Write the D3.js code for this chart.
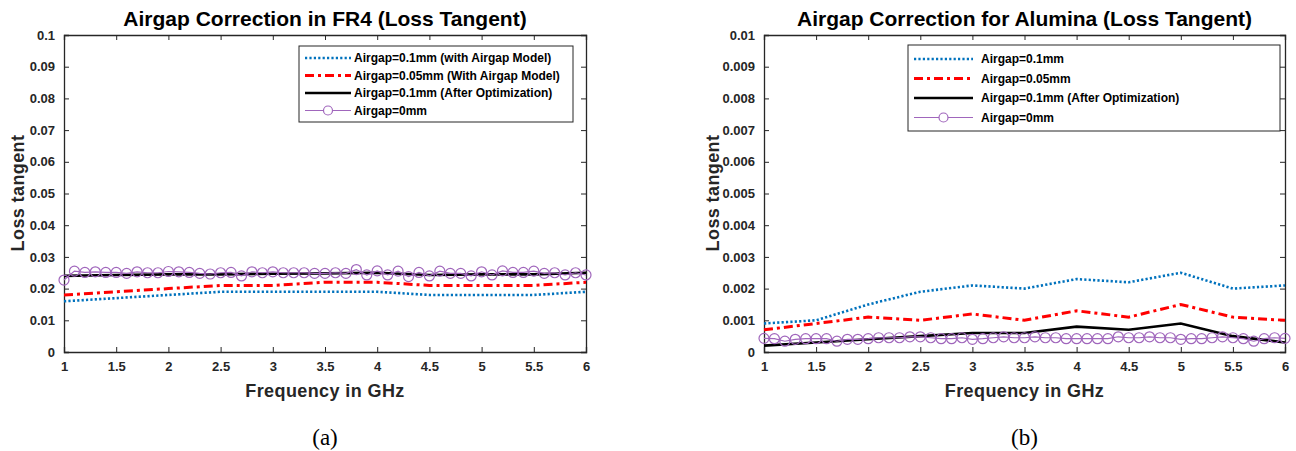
<!DOCTYPE html>
<html>
<head>
<meta charset="utf-8">
<script src="https://cdn.jsdelivr.net/npm/d3@7"></script>
<style>
  body { margin: 0; background: #fff; }
  svg { display: block; font-family: "Liberation Sans", Arial, sans-serif; }
  .tick text { font-weight: bold; font-size: 13px; fill: #262626; }
  .title { font-weight: bold; font-size: 21px; fill: #000; }
  .axlabel { font-weight: bold; font-size: 18px; fill: #262626; letter-spacing: 0.4px; }
  .leg text { font-weight: bold; font-size: 12px; fill: #000; }
  .caption { font-family: "Liberation Serif", "Times New Roman", serif; font-size: 23px; }
</style>
</head>
<body>
<script>
// coarse frequency grid (GHz)
var freq = [1, 1.5, 2, 2.5, 3, 3.5, 4, 4.5, 5, 5.5, 6];
// fine grid for the airgap=0 measurement
var freqFine = [1, 1.1, 1.2, 1.3, 1.4, 1.5, 1.6, 1.7, 1.8, 1.9, 2, 2.1, 2.2, 2.3, 2.4, 2.5, 2.6, 2.7, 2.8, 2.9,
  3, 3.1, 3.2, 3.3, 3.4, 3.5, 3.6, 3.7, 3.8, 3.9, 4, 4.1, 4.2, 4.3, 4.4, 4.5, 4.6, 4.7, 4.8, 4.9,
  5, 5.1, 5.2, 5.3, 5.4, 5.5, 5.6, 5.7, 5.8, 5.9, 6];

// (a) FR4
var fr4Gap01 = [0.016, 0.017, 0.018, 0.019, 0.019, 0.019, 0.019, 0.018, 0.018, 0.018, 0.019];
var fr4Gap005 = [0.018, 0.019, 0.020, 0.021, 0.021, 0.022, 0.022, 0.021, 0.021, 0.021, 0.022];
var fr4Opt = [0.024, 0.0243, 0.0245, 0.0245, 0.0247, 0.0248, 0.025, 0.0243, 0.0245, 0.0245, 0.025];
var fr4Gap0 = [0.0227, 0.0255, 0.0251, 0.0253, 0.0251, 0.0251, 0.0248, 0.0253, 0.025, 0.025,
  0.0254, 0.0253, 0.0251, 0.0248, 0.0246, 0.025, 0.0251, 0.024, 0.0253, 0.025,
  0.0253, 0.025, 0.025, 0.025, 0.0248, 0.0248, 0.025, 0.0248, 0.026, 0.0243,
  0.0256, 0.0243, 0.0255, 0.0238, 0.0251, 0.024, 0.0255, 0.0248, 0.0248, 0.024,
  0.0253, 0.0243, 0.0256, 0.0251, 0.0251, 0.0255, 0.0248, 0.025, 0.0243, 0.025, 0.0243];

// (b) Alumina
var alGap01 = [0.0009, 0.001, 0.0015, 0.0019, 0.0021, 0.002, 0.0023, 0.0022, 0.0025, 0.002, 0.0021];
var alGap005 = [0.0007, 0.0009, 0.0011, 0.001, 0.0012, 0.001, 0.0013, 0.0011, 0.0015, 0.0011, 0.001];
var alOpt = [0.0002, 0.0003, 0.0004, 0.0005, 0.0006, 0.0006, 0.0008, 0.0007, 0.0009, 0.0005, 0.0003];
var alGap0 = [0.00043, 0.00042, 0.00034, 0.0004, 0.00042, 0.00042, 0.00042, 0.00034, 0.0004, 0.0004,
  0.00042, 0.00045, 0.00045, 0.00045, 0.00048, 0.00048, 0.00045, 0.00042, 0.00042, 0.00045,
  0.0004, 0.00042, 0.00045, 0.00048, 0.00045, 0.00045, 0.00048, 0.00045, 0.00045, 0.00042,
  0.00042, 0.00042, 0.00042, 0.00042, 0.00048, 0.00045, 0.00045, 0.00048, 0.00045, 0.00045,
  0.0004, 0.00042, 0.00042, 0.00045, 0.00048, 0.00045, 0.00042, 0.00034, 0.00042, 0.00045, 0.00043];

var xTicks = [1, 1.5, 2, 2.5, 3, 3.5, 4, 4.5, 5, 5.5, 6];
var yTicksA = [0, 0.01, 0.02, 0.03, 0.04, 0.05, 0.06, 0.07, 0.08, 0.09, 0.1];
var yTicksB = [0, 0.001, 0.002, 0.003, 0.004, 0.005, 0.006, 0.007, 0.008, 0.009, 0.01];

var legendA = ["Airgap=0.1mm (with Airgap Model)", "Airgap=0.05mm (With Airgap Model)",
  "Airgap=0.1mm (After Optimization)", "Airgap=0mm"];
var legendB = ["Airgap=0.1mm", "Airgap=0.05mm", "Airgap=0.1mm (After Optimization)", "Airgap=0mm"];

var styles = [
  {color: "#0072BD", width: 2.6, dash: "2.2,2.2"},
  {color: "#FF0000", width: 3, dash: "9,4,3,4"},
  {color: "#000000", width: 2.6, dash: null},
  {color: "#A066BC", width: 1.2, dash: null, marker: true}
];

var svg = d3.select("body").append("svg")
    .attr("width", 1296)
    .attr("height", 451);

function drawPanel(p) {
  var g = svg.append("g");
  var x = d3.scaleLinear().domain([1, 6]).range([p.left, p.right]);
  var y = d3.scaleLinear().domain([0, p.ymax]).range([352, 35]);

  g.append("rect")
    .attr("x", p.left).attr("y", 35)
    .attr("width", p.right - p.left).attr("height", 317)
    .attr("fill", "#fff");

  var fmtY = d => d === 0 ? "0" : d3.format("~g")(d);

  g.append("g").attr("transform", "translate(0,352)")
    .call(d3.axisBottom(x).tickValues(xTicks).tickSize(-5).tickPadding(10).tickFormat(d3.format("~g")));
  g.append("g").attr("transform", "translate(0,35)")
    .call(d3.axisTop(x).tickValues(xTicks).tickSize(-5).tickFormat(""));
  g.append("g").attr("transform", `translate(${p.left},0)`)
    .call(d3.axisLeft(y).tickValues(p.yTicks).tickSize(-5).tickPadding(9).tickFormat(fmtY));
  g.append("g").attr("transform", `translate(${p.right},0)`)
    .call(d3.axisRight(y).tickValues(p.yTicks).tickSize(-5).tickFormat(""));
  g.selectAll(".domain").attr("stroke", "#262626").attr("stroke-width", 1.3);
  g.selectAll(".tick line").attr("stroke", "#262626");

  var line = d3.line().x(d => x(d[0])).y(d => y(d[1]));
  p.series.forEach(function(s, i) {
    var st = styles[i];
    var pts = s.x.map((v, j) => [v, s.y[j]]);
    g.append("path")
      .attr("d", line(pts))
      .attr("fill", "none")
      .attr("stroke", st.color)
      .attr("stroke-width", st.width)
      .attr("stroke-dasharray", st.dash);
    if (st.marker) {
      g.append("g").selectAll("circle").data(pts).enter().append("circle")
        .attr("cx", d => x(d[0])).attr("cy", d => y(d[1])).attr("r", 5)
        .attr("fill", "none").attr("stroke", st.color).attr("stroke-width", 1.2);
    }
  });

  // legend
  var lg = g.append("g").attr("class", "leg");
  lg.append("rect")
    .attr("x", p.leg.x).attr("y", p.leg.y)
    .attr("width", p.leg.w).attr("height", p.leg.h)
    .attr("fill", "#fff").attr("stroke", "#262626").attr("stroke-width", 1);
  p.legend.forEach(function(txt, i) {
    var st = styles[i];
    var ly = p.leg.y + p.leg.first + i * p.leg.step;
    var x0 = p.leg.x + 6, x1 = x0 + p.leg.sample;
    lg.append("line")
      .attr("x1", x0).attr("x2", x1).attr("y1", ly).attr("y2", ly)
      .attr("stroke", st.color).attr("stroke-width", st.width)
      .attr("stroke-dasharray", st.dash);
    if (st.marker) {
      lg.append("circle").attr("cx", (x0 + x1) / 2).attr("cy", ly).attr("r", 4.5)
        .attr("fill", "#fff").attr("stroke", st.color).attr("stroke-width", 1.2);
    }
    lg.append("text").attr("x", x1 + p.leg.gap).attr("y", ly).attr("dy", "0.35em").text(txt);
  });

  var cx = (p.left + p.right) / 2;
  g.append("text").attr("class", "title")
    .attr("x", cx).attr("y", 26).attr("text-anchor", "middle").text(p.title);
  g.append("text").attr("class", "axlabel")
    .attr("x", cx).attr("y", 397).attr("text-anchor", "middle").text("Frequency in GHz");
  g.append("text").attr("class", "axlabel")
    .attr("transform", `translate(${p.ylabX},193) rotate(-90)`)
    .attr("text-anchor", "middle").text("Loss tangent");
  g.append("text").attr("class", "caption")
    .attr("x", cx).attr("y", 445).attr("text-anchor", "middle").text(p.caption);
}

drawPanel({
  left: 64, right: 586, ymax: 0.1, yTicks: yTicksA,
  title: "Airgap Correction in FR4 (Loss Tangent)", caption: "(a)", ylabX: 24,
  series: [
    {x: freq, y: fr4Gap01}, {x: freq, y: fr4Gap005}, {x: freq, y: fr4Opt}, {x: freqFine, y: fr4Gap0}
  ],
  legend: legendA,
  leg: {x: 299, y: 46, w: 274, h: 76, first: 12, step: 17.5, sample: 46, gap: 3}
});

drawPanel({
  left: 764, right: 1285, ymax: 0.01, yTicks: yTicksB,
  title: "Airgap Correction for Alumina (Loss Tangent)", caption: "(b)", ylabX: 719,
  series: [
    {x: freq, y: alGap01}, {x: freq, y: alGap005}, {x: freq, y: alOpt}, {x: freqFine, y: alGap0}
  ],
  legend: legendB,
  leg: {x: 908, y: 45, w: 372, h: 86, first: 14, step: 19.5, sample: 59, gap: 8}
});
</script>
</body>
</html>
